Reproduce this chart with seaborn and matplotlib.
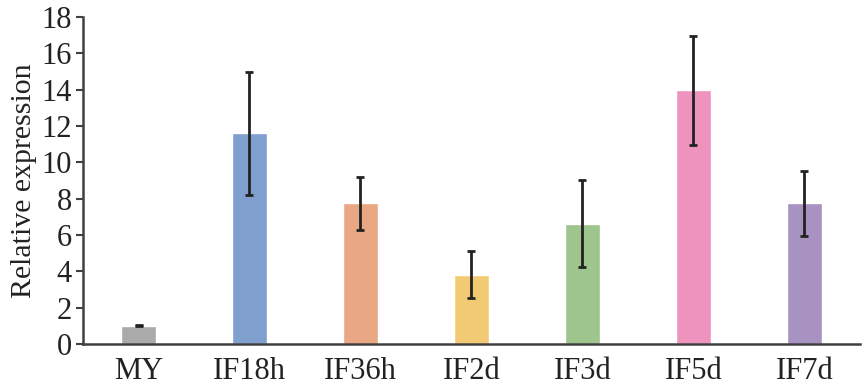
import matplotlib
matplotlib.use("Agg")
import matplotlib.pyplot as plt
import seaborn as sns
import pandas as pd

categories = ["MY", "IF18h", "IF36h", "IF2d", "IF3d", "IF5d", "IF7d"]
values = [1.0, 11.6, 7.75, 3.82, 6.62, 13.98, 7.75]
errors = [0.03, 3.4, 1.45, 1.28, 2.4, 3.0, 1.8]
colors = ["#AAAAAA", "#7F9FCE", "#EAA784", "#F3CA74", "#9DC58D", "#EE93BE", "#A792C2"]
yticks = [0, 2, 4, 6, 8, 10, 12, 14, 16, 18]

sns.set_style("white")
plt.rcParams["font.family"] = ["Liberation Serif", "DejaVu Serif"]

df = pd.DataFrame({"cat": categories, "val": values})

fig = plt.figure(figsize=(8.65, 3.87), dpi=100)
ax = fig.add_axes([0.096, 0.111, 0.898, 0.845])
sns.barplot(data=df, x="cat", y="val", hue="cat", palette=colors, order=categories,
            width=0.31, saturation=1, legend=False, ax=ax, errorbar=None)
ax.errorbar(x=range(len(categories)), y=values, yerr=errors, fmt="none",
            ecolor="#222222", elinewidth=2, capsize=3, capthick=2)

ax.set_xlim(-0.5, len(categories) - 0.5)
ax.set_ylim(0, 18)
ax.set_yticks(yticks)
ax.set_xlabel("")
ax.set_ylabel("Relative expression", fontsize=21.5, color="#222222", labelpad=3)
ax.tick_params(axis="y", which="both", left=True, length=5, width=1.5, color="#404040",
               labelsize=22, labelcolor="#222222", pad=3)
ax.tick_params(axis="x", bottom=False, labelsize=22, labelcolor="#222222", pad=6)
for s in ["top", "right"]:
    ax.spines[s].set_visible(False)
for s in ["left", "bottom"]:
    ax.spines[s].set_color("#404040")
    ax.spines[s].set_linewidth(1.8)

fig.savefig("out.png", dpi=100)
